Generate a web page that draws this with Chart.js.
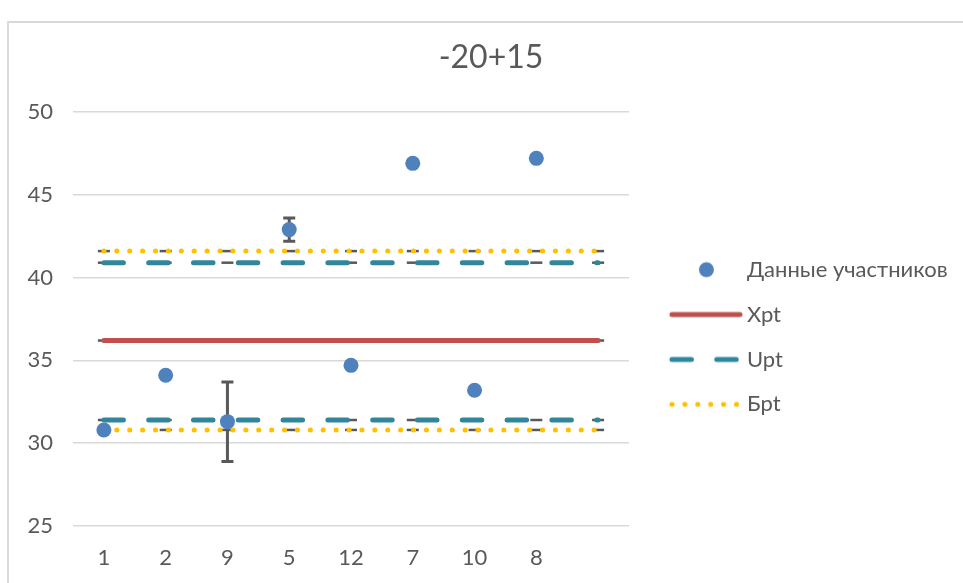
<!DOCTYPE html>
<html>
<head>
<meta charset="utf-8">
<script src="https://cdn.jsdelivr.net/npm/chart.js@4.4.1/dist/chart.umd.min.js"></script>
<style>
    body { margin: 0; background: #fff; }
    .wrap { position: relative; width: 963px; height: 583px; overflow: hidden; }
    .frame { position: absolute; left: 7px; top: 21px; width: 1000px; height: 600px; border: 2px solid #d9d9d9; }
    #chart { position: absolute; left: 0; top: 0; }
</style>
</head>
<body>
<div class="wrap">
    <div class="frame"></div>
    <canvas id="chart" width="963" height="583"></canvas>
</div>
<script>
const categories = ['1', '2', '9', '5', '12', '7', '10', '8', ''];
const participants = [30.8, 34.1, 31.3, 42.9, 34.7, 46.9, 33.2, 47.2];
const participantErr = [0, 0, 2.4, 0.7, 0, 0, 0, 0];
const xpt = [36.2, 36.2, 36.2, 36.2, 36.2, 36.2, 36.2, 36.2, 36.2];
const uptHigh = [40.9, 40.9, 40.9, 40.9, 40.9, 40.9, 40.9, 40.9, 40.9];
const uptLow = [31.4, 31.4, 31.4, 31.4, 31.4, 31.4, 31.4, 31.4, 31.4];
const bptHigh = [41.6, 41.6, 41.6, 41.6, 41.6, 41.6, 41.6, 41.6, 41.6];
const bptLow = [30.8, 30.8, 30.8, 30.8, 30.8, 30.8, 30.8, 30.8, 30.8];
const yTicks = [25, 30, 35, 40, 45, 50];

const FONT = 'Lato, "Open Sans", sans-serif';
const TEXT = '#595959';
const GRAY = '#595959';
const BLUE = '#4f81bd';
const RED = '#c0504d';
const TEAL = '#31869b';
const YELLOW = '#ffc000';
const UPT_DASH = [19.5, 25.3];
const BPT_DASH = [0.1, 12.8];

// legend symbols are small canvases used as point styles
function makeIcon(draw) {
    const c = document.createElement('canvas');
    c.width = 100;
    c.height = 24;
    draw(c.getContext('2d'));
    return c;
}
function lineIcon(color, dash) {
    return makeIcon(g => {
        g.strokeStyle = color;
        g.lineWidth = 5;
        g.lineCap = 'round';
        g.setLineDash(dash);
        g.beginPath();
        g.moveTo(28, 12);
        g.lineTo(96, 12);
        g.stroke();
    });
}
const legendIcons = {
    'Данные участников': makeIcon(g => {
        g.fillStyle = BLUE;
        g.beginPath();
        g.arc(62.5, 12, 7.5, 0, Math.PI * 2);
        g.fill();
    }),
    'Xpt': lineIcon(RED, []),
    'Upt': lineIcon(TEAL, UPT_DASH),
    'Бpt': lineIcon(YELLOW, BPT_DASH)
};

function levelLine(label, data, color, dash) {
    return {
        label: label,
        data: data,
        borderColor: color,
        backgroundColor: color,
        borderWidth: 5,
        borderDash: dash,
        borderCapStyle: 'round',
        pointRadius: 0,
        pointHoverRadius: 0,
        markers: true
    };
}

// short grey dash markers on the level lines, drawn underneath them
const lineMarkers = {
    id: 'lineMarkers',
    beforeDatasetsDraw(chart) {
        const ctx = chart.ctx;
        ctx.save();
        ctx.strokeStyle = GRAY;
        ctx.lineWidth = 2.5;
        chart.data.datasets.forEach((ds, i) => {
            if (!ds.markers) return;
            chart.getDatasetMeta(i).data.forEach(pt => {
                ctx.beginPath();
                ctx.moveTo(pt.x - 6, pt.y);
                ctx.lineTo(pt.x + 6, pt.y);
                ctx.stroke();
            });
        });
        ctx.restore();
    }
};

const errorBars = {
    id: 'errorBars',
    beforeDatasetDraw(chart, args) {
        if (args.index !== 0) return;
        const y = chart.scales.y;
        const ctx = chart.ctx;
        ctx.save();
        ctx.strokeStyle = GRAY;
        ctx.lineWidth = 3;
        args.meta.data.forEach((pt, i) => {
            const e = participantErr[i];
            if (!e) return;
            const top = y.getPixelForValue(participants[i] + e);
            const bot = y.getPixelForValue(participants[i] - e);
            ctx.beginPath();
            ctx.moveTo(pt.x, top);
            ctx.lineTo(pt.x, bot);
            ctx.moveTo(pt.x - 6, top);
            ctx.lineTo(pt.x + 6, top);
            ctx.moveTo(pt.x - 6, bot);
            ctx.lineTo(pt.x + 6, bot);
            ctx.stroke();
        });
        ctx.restore();
    }
};

const legendTweak = {
    id: 'legendTweak',
    beforeInit(chart) {
        const fit = chart.legend.fit;
        chart.legend.fit = function () {
            fit.call(this);
            this.width = 334;
        };
    },
    afterLayout(chart) {
        chart.legend.top += 18;
        chart.legend.bottom += 18;
    }
};

Chart.defaults.font.family = FONT;
Chart.defaults.color = TEXT;

new Chart(document.getElementById('chart'), {
    type: 'line',
    data: {
        labels: categories,
        datasets: [
            {
                label: 'Данные участников',
                data: participants,
                showLine: false,
                pointRadius: 7.5,
                pointHoverRadius: 7.5,
                pointBorderWidth: 0,
                pointBackgroundColor: BLUE,
                borderColor: BLUE,
                backgroundColor: BLUE
            },
            levelLine('Xpt', xpt, RED, []),
            levelLine('Upt', uptHigh, TEAL, UPT_DASH),
            levelLine('Upt', uptLow, TEAL, UPT_DASH),
            levelLine('Бpt', bptHigh, YELLOW, BPT_DASH),
            levelLine('Бpt', bptLow, YELLOW, BPT_DASH)
        ]
    },
    options: {
        responsive: false,
        animation: false,
        layout: { padding: { left: 19, right: 0, top: 0, bottom: 0 } },
        elements: { line: { tension: 0 } },
        plugins: {
            title: {
                display: true,
                text: '-20+15',
                color: TEXT,
                font: { size: 32, weight: 'normal' },
                padding: { top: 38.3, bottom: 35.3 }
            },
            legend: {
                position: 'right',
                fullSize: false,
                labels: {
                    usePointStyle: true,
                    pointStyleWidth: 84,
                    padding: 22.9,
                    color: TEXT,
                    font: { size: 22 },
                    generateLabels(chart) {
                        const seen = {};
                        const items = [];
                        chart.data.datasets.forEach((ds, i) => {
                            if (seen[ds.label]) return;
                            seen[ds.label] = true;
                            items.push({
                                text: ds.label,
                                pointStyle: legendIcons[ds.label],
                                fontColor: TEXT,
                                fillStyle: 'transparent',
                                strokeStyle: 'transparent',
                                lineWidth: 0,
                                hidden: false,
                                datasetIndex: i
                            });
                        });
                        return items;
                    }
                }
            },
            tooltip: { enabled: false }
        },
        scales: {
            x: {
                offset: true,
                grid: { display: false },
                border: { display: false },
                ticks: { font: { size: 22 }, color: TEXT, padding: 11, maxRotation: 0 },
                afterFit(scale) { scale.height = 57; }
            },
            y: {
                min: 25,
                max: 50,
                grid: { color: '#d9d9d9', lineWidth: 1.5, drawTicks: false },
                border: { display: false },
                ticks: { font: { size: 22 }, color: TEXT, padding: 20 },
                afterBuildTicks(scale) { scale.ticks = yTicks.map(v => ({ value: v })); },
                afterFit(scale) { scale.width = 54; }
            }
        }
    },
    plugins: [lineMarkers, errorBars, legendTweak]
});
</script>
</body>
</html>
